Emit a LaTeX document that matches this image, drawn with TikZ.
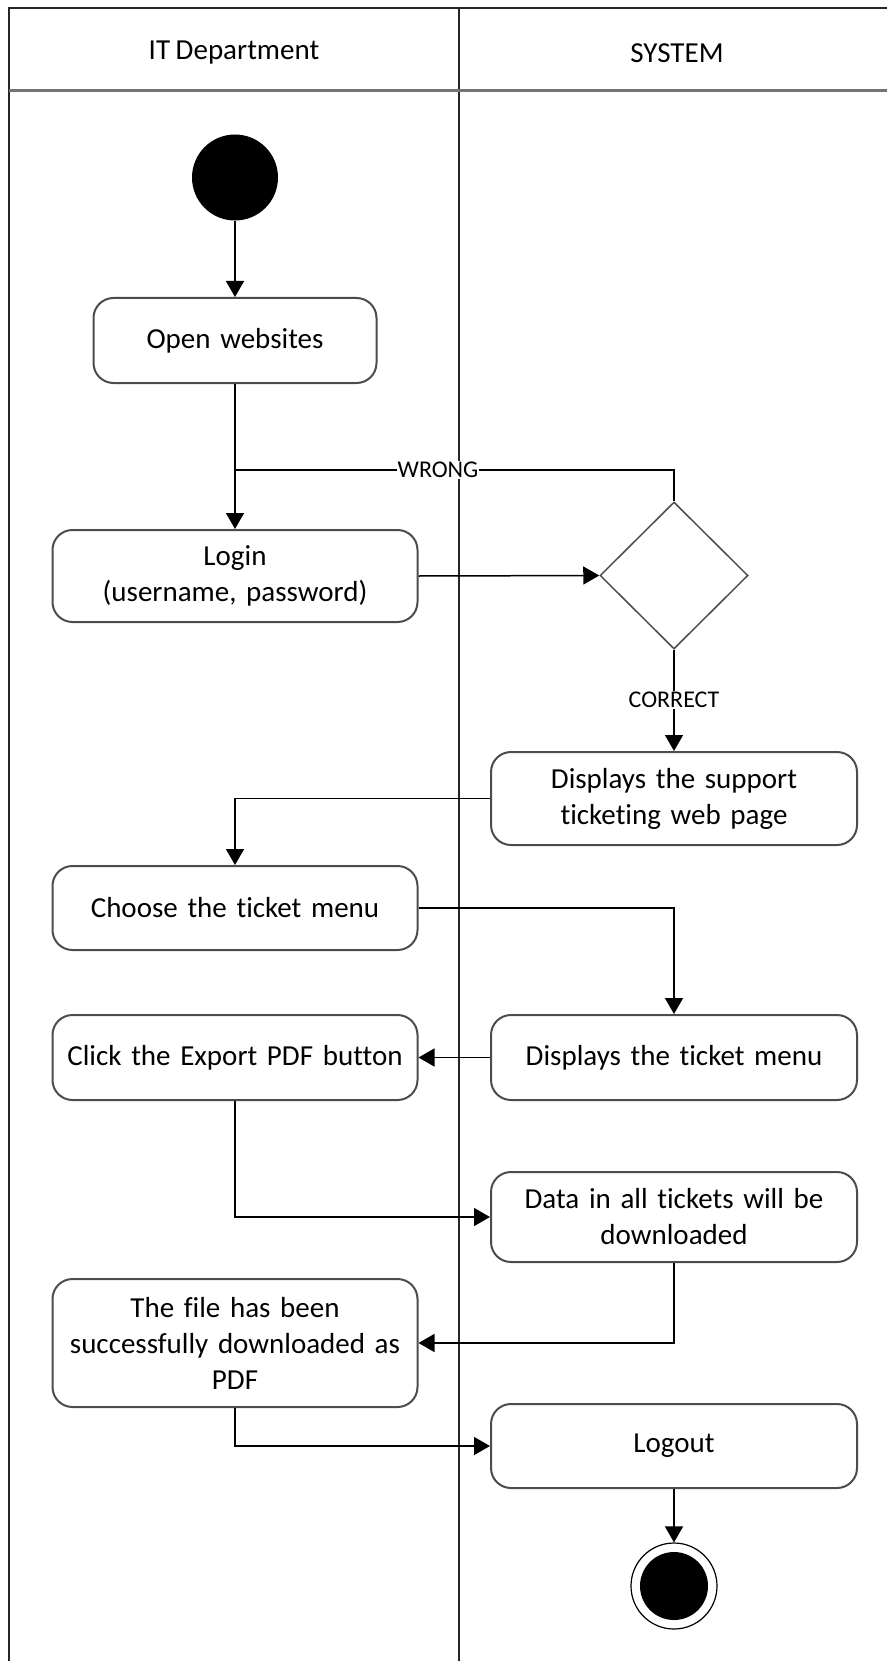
\documentclass[tikz,border=0pt]{standalone}
\usepackage{fontspec}
\setmainfont{Carlito}[RawFeature={-liga;-clig;-dlig;-calt;-rlig}, WordSpace=0.85]
\usetikzlibrary{shapes.geometric,arrows.meta}
\begin{document}
\begin{tikzpicture}[x=1pt,y=-1pt,
  every node/.style={font=\fontsize{29}{36}\selectfont},
  act/.style={draw=black!70, line width=2pt, rounded corners=20pt, align=center, inner sep=0pt, text width=#1},
  act/.default=340pt,
  flow/.style={draw=black, line width=1.5pt, -{Triangle[length=16pt,width=18pt]}},
  plain/.style={draw=black, line width=1.5pt},
  lbl/.style={font=\fontsize{24}{28}\selectfont, fill=white, inner sep=1pt},
  lane/.style={draw=black!85, line width=2.5pt},
  head/.style={draw=black!55, line width=3pt}
]
\useasboundingbox (0,0) rectangle (887,1661);
% swimlane frame
\draw[lane] (9,1661) -- (9,8) -- (887,8);
\draw[lane] (459,8) -- (459,1661);
\draw[head] (9,91) -- (887,91);
\node (h1) at (234,53) {IT Department};
\node (h2) at (677,53) {SYSTEM};

% nodes
\node[circle, fill=black, minimum size=86pt, inner sep=0pt] (start) at (235,177.5) {};
\node[act=283pt, minimum height=85pt] (open) at (235,340.5) {Open websites};
\node[act=365pt, minimum height=92pt] (login) at (235,576) {Login\\(username, password)};
\node[diamond, draw=black!70, line width=1.5pt, minimum width=148pt, minimum height=147pt, inner sep=0pt] (dia) at (674,575.5) {};
\node[act=366pt, minimum height=93pt] (sup) at (674,798.5) {Displays the support\\ticketing web page};
\node[act=365pt, minimum height=84pt] (cho) at (235,908) {Choose the ticket menu};
\node[act=366pt, minimum height=85pt] (tik) at (674,1057.5) {Displays the ticket menu};
\node[act=365pt, minimum height=85pt] (clk) at (235,1057.5) {Click the Export PDF button};
\node[act=366pt, minimum height=90pt] (dat) at (674,1217) {Data in all tickets will be\\downloaded};
\node[act=365pt, minimum height=128pt] (fil) at (235,1343) {The file has been\\successfully downloaded as\\PDF};
\node[act=366pt, minimum height=84pt] (log) at (674,1446) {Logout};
\node[circle, draw=black, line width=1.2pt, minimum size=86pt, inner sep=0pt] (end) at (674,1586) {};
\fill[black] (end.center) circle (34pt);

% connectors
\coordinate (wj) at (235,470);
\draw[flow] (start) -- (open);
\draw[flow] (open) -- (login);
\draw[plain] (dia.north) |- (wj);
\node[lbl] (wrong) at (438,470) {WRONG};
\draw[flow] (login.east) -- (dia.west);
\draw[flow] (dia.south) -- (sup.north);
\node[lbl] (correct) at (674,700) {CORRECT};
\draw[flow] (sup.west) -| (cho.north);
\draw[flow] (cho.east) -| (tik.north);
\draw[flow] (tik.west) -- (clk.east);
\draw[flow] (clk.south) |- (dat.west);
\draw[flow] (dat.south) |- (fil.east);
\draw[flow] (fil.south) |- (log.west);
\draw[flow] (log.south) -- (end.north);
\end{tikzpicture}
\end{document}
